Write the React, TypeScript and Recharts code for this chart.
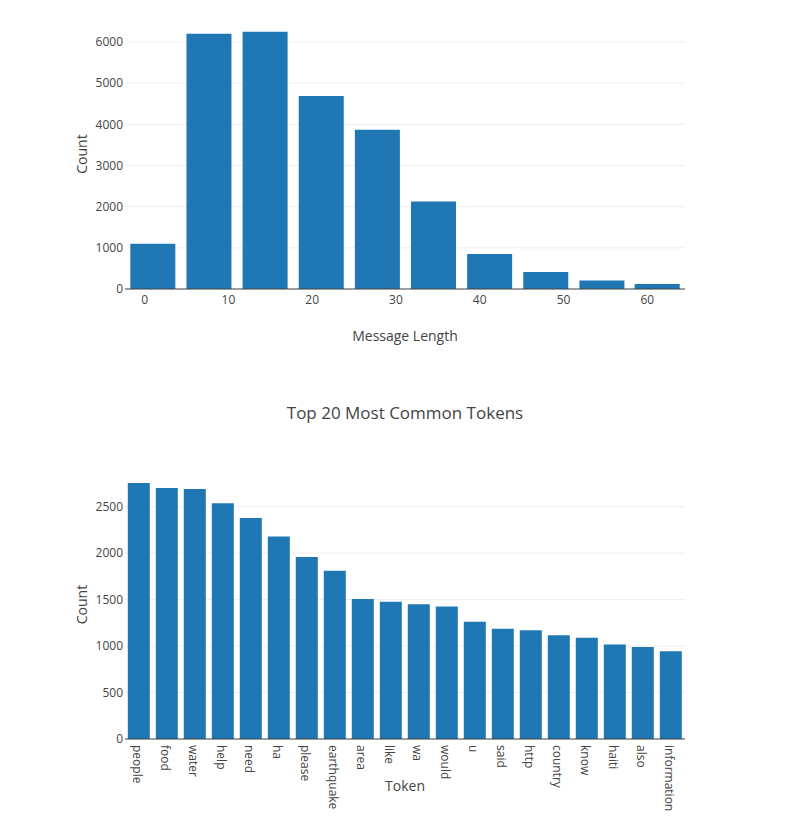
import { Bar, BarChart, CartesianGrid, XAxis, YAxis } from "recharts";

// message length histogram (bin centres)
const lengthBins = [1.0, 7.7, 14.4, 21.1, 27.8, 34.5, 41.2, 47.9, 54.6, 61.2];
const lengthCounts = [1100, 6200, 6250, 4690, 3870, 2125, 850, 415, 205, 120];
const lengthTicks = [0, 10, 20, 30, 40, 50, 60];
const lengthCountTicks = [0, 1000, 2000, 3000, 4000, 5000, 6000];

// top tokens
const tokens = [
  "people", "food", "water", "help", "need", "ha", "please", "earthquake", "area", "like",
  "wa", "would", "u", "said", "http", "country", "know", "haiti", "also", "information",
];
const tokenCounts = [
  2755, 2700, 2690, 2536, 2378, 2178, 1960, 1810, 1506, 1477,
  1449, 1427, 1262, 1187, 1170, 1116, 1091, 1016, 991, 944,
];
const tokenCountTicks = [0, 500, 1000, 1500, 2000, 2500];

const FONT = '"Open Sans", sans-serif';
const TEXT = "#444";
const BLUE = "#1f77b4";

const lengthData = lengthBins.map((bin, i) => ({ bin, count: lengthCounts[i] }));
const tokenData = tokens.map((token, i) => ({ token, count: tokenCounts[i] }));

const tickStyle = { fontSize: 12, fill: TEXT, fontFamily: FONT };
const titleStyle = { fontSize: 14, fill: TEXT, fontFamily: FONT };

function RotatedTick(props: any) {
  const { x, y, payload } = props;
  return (
    <text
      x={x}
      y={y}
      dy={6}
      transform={`rotate(90, ${x}, ${y})`}
      textAnchor="start"
      fontSize={12}
      fill={TEXT}
      fontFamily={FONT}
    >
      {payload.value}
    </text>
  );
}

export default function App() {
  return (
    <div
      style={{
        position: "absolute",
        left: 0,
        top: 0,
        width: 801,
        height: 819,
        background: "#fff",
        fontFamily: FONT,
        overflow: "hidden",
      }}
    >
      <div style={{ position: "absolute", left: 0, top: 0 }}>
        <BarChart
          width={801}
          height={370}
          data={lengthData}
          margin={{ top: 19, right: 116, left: 39, bottom: 0 }}
        >
          <CartesianGrid vertical={false} stroke="#eee" horizontalValues={lengthCountTicks} />
          <XAxis
            dataKey="bin"
            type="number"
            domain={[-2.34, 64.5]}
            allowDataOverflow
            ticks={lengthTicks}
            height={81}
            tickSize={6}
            tickMargin={0}
            tickLine={false}
            axisLine={{ stroke: TEXT }}
            tick={tickStyle}
            label={{ value: "Message Length", position: "insideTop", offset: 42, style: titleStyle }}
          />
          <YAxis
            domain={[0, 6560]}
            ticks={lengthCountTicks}
            width={86}
            tickSize={2}
            tickMargin={0}
            tickLine={false}
            axisLine={false}
            tick={tickStyle}
            label={{ value: "Count", angle: -90, position: "center", style: titleStyle }}
          />
          <Bar dataKey="count" fill={BLUE} barSize={45} isAnimationActive={false} />
        </BarChart>
      </div>

      <div
        style={{
          position: "absolute",
          left: 125,
          top: 401,
          width: 560,
          textAlign: "center",
          fontSize: 17,
          color: TEXT,
        }}
      >
        Top 20 Most Common Tokens
      </div>

      <div style={{ position: "absolute", left: 0, top: 440 }}>
        <BarChart
          width={801}
          height={379}
          data={tokenData}
          barCategoryGap="10%"
          margin={{ top: 30, right: 116, left: 39, bottom: 0 }}
        >
          <CartesianGrid vertical={false} stroke="#eee" horizontalValues={tokenCountTicks} />
          <XAxis
            dataKey="token"
            interval={0}
            height={80}
            tickSize={6}
            tickMargin={0}
            tickLine={false}
            axisLine={{ stroke: TEXT }}
            tick={<RotatedTick />}
            label={{ value: "Token", position: "insideTop", offset: 42, style: titleStyle }}
          />
          <YAxis
            domain={[0, 2895]}
            ticks={tokenCountTicks}
            width={86}
            tickSize={2}
            tickMargin={0}
            tickLine={false}
            axisLine={false}
            tick={tickStyle}
            label={{ value: "Count", angle: -90, position: "center", style: titleStyle }}
          />
          <Bar dataKey="count" fill={BLUE} isAnimationActive={false} />
        </BarChart>
      </div>
    </div>
  );
}
